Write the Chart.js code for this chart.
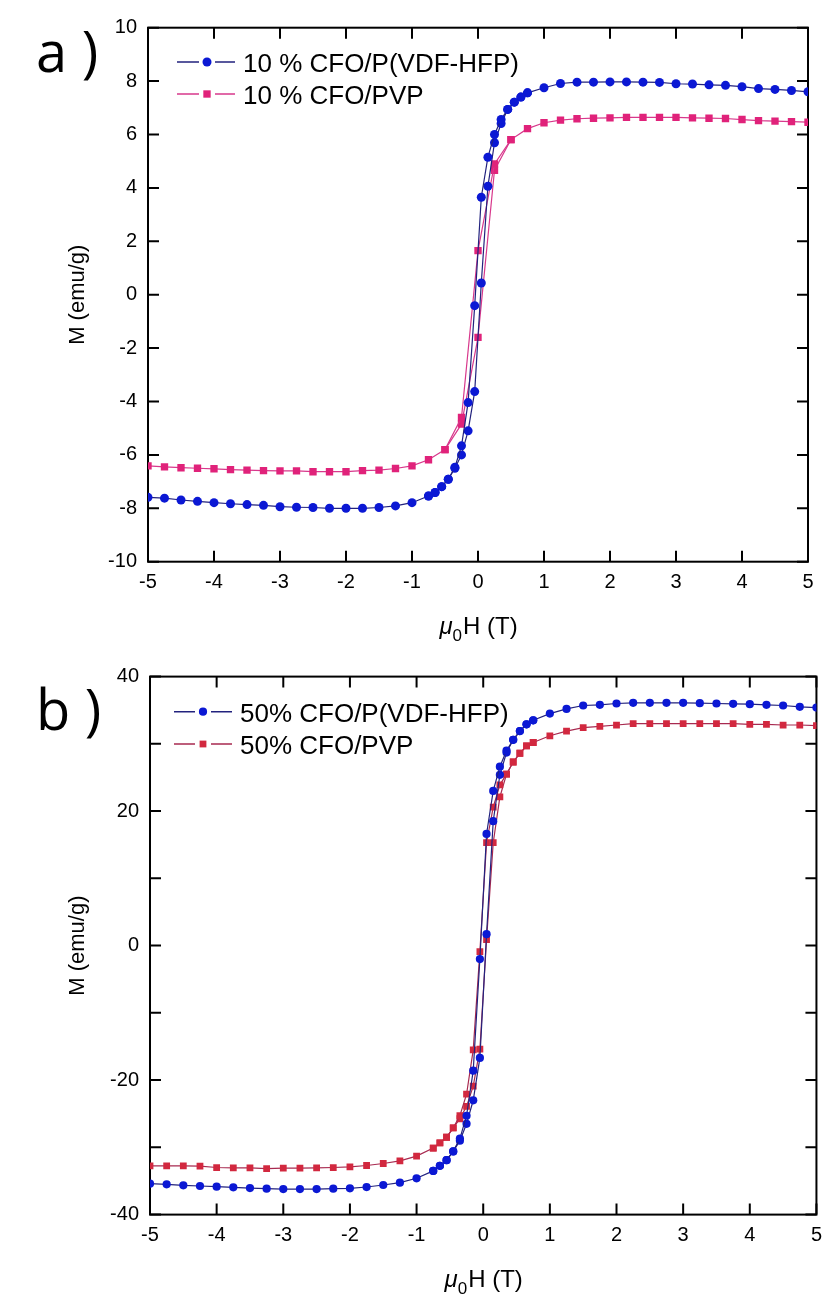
<!DOCTYPE html>
<html>
<head>
<meta charset="utf-8">
<script src="https://cdn.jsdelivr.net/npm/chart.js@4.4.0/dist/chart.umd.min.js"></script>
<style>
    body { margin: 0; background: #fff; width: 831px; height: 1301px; overflow: hidden; position: relative; }
    canvas { position: absolute; left: 0; }
</style>
</head>
<body>
<canvas id="chartA" style="top:0" width="831" height="650"></canvas>
<canvas id="chartB" style="top:650px" width="831" height="651"></canvas>
<script>
// field sweep from +5 T down to -5 T (descending branch)
var fieldSweep = [5, 4.75, 4.5, 4.25, 4, 3.75, 3.5, 3.25, 3, 2.75, 2.5, 2.25, 2, 1.75, 1.5, 1.25, 1,
    0.75, 0.65, 0.55, 0.45, 0.35, 0.25, 0.15, 0.05, -0.05, -0.15, -0.25, -0.35, -0.45, -0.55, -0.65, -0.75,
    -1, -1.25, -1.5, -1.75, -2, -2.25, -2.5, -2.75, -3, -3.25, -3.5, -3.75, -4, -4.25, -4.5, -4.75, -5];
// ascending branch near zero, where it splits from the descending one
var fieldInner = [-0.75, -0.65, -0.55, -0.45, -0.35, -0.25, -0.15, -0.05, 0.05, 0.15, 0.25, 0.35, 0.45, 0.55, 0.65, 0.75];

var fieldSweepPvp10 = [5, 4.75, 4.5, 4.25, 4, 3.75, 3.5, 3.25, 3, 2.75, 2.5, 2.25, 2, 1.75, 1.5, 1.25, 1,
    0.75, 0.5, 0.25, 0, -0.25, -0.5, -0.75,
    -1, -1.25, -1.5, -1.75, -2, -2.25, -2.5, -2.75, -3, -3.25, -3.5, -3.75, -4, -4.25, -4.5, -4.75, -5];
var fieldInnerPvp10 = [-0.5, -0.25, 0, 0.25, 0.5];

// a) 10 % CFO
var hfp10Down = [7.60, 7.65, 7.69, 7.72, 7.79, 7.84, 7.86, 7.89, 7.90, 7.95, 7.96, 7.97, 7.97, 7.96, 7.96, 7.91, 7.75,
    7.56, 7.40, 7.21, 6.94, 6.56, 6.00, 5.15, 3.65, -0.41, -4.04, -5.66, -6.46, -6.91, -7.19, -7.41, -7.54,
    -7.79, -7.91, -7.97, -8.00, -8.00, -8.00, -7.97, -7.96, -7.94, -7.89, -7.86, -7.83, -7.79, -7.74, -7.69, -7.62, -7.59];
var hfp10Up = [-7.54, -7.41, -7.19, -6.91, -6.50, -6.00, -5.10, -3.63, 0.44, 4.06, 5.69, 6.41, 6.94, 7.21, 7.40, 7.56];

var pvp10Down = [6.46, 6.48, 6.50, 6.52, 6.56, 6.60, 6.61, 6.62, 6.64, 6.64, 6.64, 6.64, 6.62, 6.61, 6.59, 6.54, 6.44,
    6.22, 5.81, 4.90, 1.65, -4.60, -5.80, -6.18,
    -6.41, -6.51, -6.57, -6.59, -6.63, -6.63, -6.63, -6.60, -6.60, -6.59, -6.57, -6.55, -6.52, -6.50, -6.48, -6.45, -6.41];
var pvp10Up = [-5.80, -4.85, -1.60, 4.66, 5.81];

// b) 50% CFO
var hfp50Down = [35.4, 35.5, 35.7, 35.8, 35.9, 35.95, 36.0, 36.05, 36.1, 36.1, 36.1, 36.1, 36.0, 35.8, 35.7, 35.2, 34.5,
    33.5, 32.9, 31.9, 30.6, 29.0, 26.6, 23.0, 16.6, -2.0, -18.6, -25.3, -28.7, -30.6, -31.9, -32.75, -33.5,
    -34.6, -35.25, -35.6, -35.9, -36.1, -36.15, -36.2, -36.2, -36.2, -36.15, -36.05, -35.95, -35.85, -35.75, -35.65, -35.5, -35.4];
var hfp50Up = [-33.5, -32.75, -31.9, -30.6, -29.0, -26.5, -23.0, -16.7, 1.7, 18.5, 25.4, 28.7, 30.6, 31.9, 32.9, 33.5];

var pvp50Down = [32.7, 32.8, 32.8, 32.9, 32.9, 33.0, 33.0, 33.0, 33.0, 33.0, 33.0, 33.0, 32.8, 32.6, 32.4, 31.9, 31.2,
    30.2, 29.7, 28.6, 27.3, 25.5, 23.9, 20.6, 15.3, -0.9, -15.5, -22.1, -25.3, -27.1, -28.5, -29.35, -30.1,
    -31.3, -32.0, -32.4, -32.7, -32.9, -33.0, -33.05, -33.1, -33.1, -33.15, -33.05, -33.05, -33.0, -32.8, -32.75, -32.75, -32.75];
var pvp50Up = [-30.1, -29.35, -28.5, -27.1, -25.75, -23.9, -20.9, -15.4, 0.9, 15.3, 22.1, 25.5, 27.3, 28.6, 29.7, 30.2];

var fieldTicks = [-5, -4, -3, -2, -1, 0, 1, 2, 3, 4, 5];
var momentTicksA = [-10, -8, -6, -4, -2, 0, 2, 4, 6, 8, 10];
var momentTicksB = [-40, -30, -20, -10, 0, 10, 20, 30, 40];
var momentLabelsB = [-40, -20, 0, 20, 40];

var FONT = '"Liberation Sans", Arial, sans-serif';

function pts(xs, ys) {
    return xs.map(function (x, i) { return { x: x, y: ys[i] }; });
}

function series(xs, ys, line, fill, style, r) {
    return {
        data: pts(xs, ys),
        showLine: true,
        borderColor: line,
        borderWidth: 1.2,
        pointStyle: style,
        pointRadius: r,
        pointBackgroundColor: fill,
        pointBorderColor: fill,
        pointBorderWidth: 0,
        tension: 0
    };
}

// frame, inward ticks, legend, titles
var framePlugin = {
    id: 'frame',
    beforeDatasetsDraw: function (chart) {
        var ctx = chart.ctx, a = chart.chartArea, xs = chart.scales.x, ys = chart.scales.y;
        ctx.save();
        ctx.strokeStyle = '#000';
        ctx.lineWidth = 2;
        ctx.strokeRect(a.left, a.top, a.right - a.left, a.bottom - a.top);
        ctx.beginPath();
        xs.ticks.forEach(function (t) {
            var p = xs.getPixelForValue(t.value);
            ctx.moveTo(p, a.bottom); ctx.lineTo(p, a.bottom - 11);
            ctx.moveTo(p, a.top); ctx.lineTo(p, a.top + 11);
        });
        ys.ticks.forEach(function (t) {
            var p = ys.getPixelForValue(t.value);
            ctx.moveTo(a.left, p); ctx.lineTo(a.left + 11, p);
            ctx.moveTo(a.right, p); ctx.lineTo(a.right - 11, p);
        });
        ctx.stroke();
        ctx.restore();
    },
    afterDraw: function (chart, args, opts) {
        var ctx = chart.ctx, a = chart.chartArea;
        ctx.save();
        ctx.fillStyle = '#000';

        // panel tag
        ctx.font = '56px "Open Sans", sans-serif';
        ctx.textBaseline = 'alphabetic';
        ctx.textAlign = 'left';
        ctx.fillText(opts.tag, 36, opts.tagY);

        // legend
        opts.legend.forEach(function (it) {
            var ds = chart.data.datasets[it.ds];
            ctx.strokeStyle = ds.borderColor;
            ctx.lineWidth = 1.5;
            ctx.beginPath();
            ctx.moveTo(it.x0, it.y); ctx.lineTo(it.m - 8, it.y);
            ctx.moveTo(it.m + 8, it.y); ctx.lineTo(it.x0 + 58, it.y);
            ctx.stroke();
            ctx.fillStyle = ds.pointBackgroundColor;
            ctx.beginPath();
            if (ds.pointStyle === 'rect') {
                var s = ds.pointRadius * Math.SQRT1_2;
                ctx.rect(it.m - s, it.y - s, 2 * s, 2 * s);
            } else {
                ctx.arc(it.m, it.y, ds.pointRadius, 0, Math.PI * 2);
            }
            ctx.fill();
            ctx.fillStyle = '#000';
            ctx.font = '26px ' + FONT;
            ctx.fillText(it.text, it.x0 + 66, it.base);
        });

        // x title: mu_0 H (T)
        var big = '24px ' + FONT, small = '17px ' + FONT, ital = 'italic 24px ' + FONT;
        ctx.font = ital; var w1 = ctx.measureText('\u03bc').width;
        ctx.font = small; var w2 = ctx.measureText('0').width;
        ctx.font = big; var w3 = ctx.measureText('H (T)').width;
        var x = (a.left + a.right) / 2 - (w1 + w2 + w3) / 2;
        var by = a.bottom + 72;
        ctx.font = ital; ctx.fillText('\u03bc', x, by);
        ctx.font = small; ctx.fillText('0', x + w1, by + 7);
        ctx.font = big; ctx.fillText('H (T)', x + w1 + w2 + 1, by);

        // y title
        ctx.translate(84, (a.top + a.bottom) / 2);
        ctx.rotate(-Math.PI / 2);
        ctx.textAlign = 'center';
        ctx.font = '22px ' + FONT;
        ctx.fillText('M (emu/g)', 0, 0);
        ctx.restore();
    }
};

function makeChart(id, datasets, yMin, yMax, yTicks, yLabels, pad, yWidth, xHeight, frameOpts) {
    return new Chart(document.getElementById(id), {
        type: 'scatter',
        data: { datasets: datasets },
        plugins: [framePlugin],
        options: {
            responsive: false,
            animation: false,
            events: [],
            layout: { padding: pad },
            plugins: { legend: { display: false }, tooltip: { enabled: false }, frame: frameOpts },
            scales: {
                x: {
                    type: 'linear', min: -5, max: 5,
                    afterBuildTicks: function (s) { s.ticks = fieldTicks.map(function (v) { return { value: v }; }); },
                    afterFit: function (s) { s.height = xHeight; },
                    grid: { display: false, drawTicks: false },
                    border: { display: false },
                    ticks: { color: '#000', padding: 9, maxRotation: 0, autoSkip: false, font: { family: FONT, size: 20 } }
                },
                y: {
                    type: 'linear', min: yMin, max: yMax,
                    afterBuildTicks: function (s) { s.ticks = yTicks.map(function (v) { return { value: v }; }); },
                    afterFit: function (s) { s.width = yWidth; },
                    grid: { display: false, drawTicks: false },
                    border: { display: false },
                    ticks: {
                        color: '#000', padding: 11, autoSkip: false, font: { family: FONT, size: 20 },
                        callback: function (v) { return yLabels.indexOf(v) >= 0 ? String(v) : ''; }
                    }
                }
            }
        }
    });
}

var BLUE_LINE = '#22227e', BLUE = '#0b18d4';
var PINK_LINE = '#d8388c', PINK = '#e0227a';
var RED_LINE = '#a82a50', RED = '#d2283f';

makeChart('chartA', [
    series(fieldSweep, hfp10Down, BLUE_LINE, BLUE, 'circle', 4.5),
    series(fieldInner, hfp10Up, BLUE_LINE, BLUE, 'circle', 4.5),
    series(fieldSweepPvp10, pvp10Down, PINK_LINE, PINK, 'rect', 5.2),
    series(fieldInnerPvp10, pvp10Up, PINK_LINE, PINK, 'rect', 5.2)
], -10, 10, momentTicksA, momentTicksA, { left: 0, top: 27.7, right: 23, bottom: 0 }, 148, 88.3, {
    tag: 'a )', tagY: 72,
    legend: [
        { ds: 0, text: '10 % CFO/P(VDF-HFP)', x0: 177, m: 207, y: 62, base: 72 },
        { ds: 2, text: '10 % CFO/PVP', x0: 177, m: 207, y: 94, base: 104 }
    ]
});

makeChart('chartB', [
    series(fieldSweep, hfp50Down, BLUE_LINE, BLUE, 'circle', 4.1),
    series(fieldInner, hfp50Up, BLUE_LINE, BLUE, 'circle', 4.1),
    series(fieldSweep, pvp50Down, RED_LINE, RED, 'rect', 4.8),
    series(fieldInner, pvp50Up, RED_LINE, RED, 'rect', 4.8)
], -40, 40, momentTicksB, momentLabelsB, { left: 0, top: 26.6, right: 14, bottom: 0 }, 150, 86.4, {
    tag: 'b )', tagY: 80,
    legend: [
        { ds: 0, text: '50% CFO/P(VDF-HFP)', x0: 174, m: 203, y: 61.7, base: 72 },
        { ds: 2, text: '50% CFO/PVP', x0: 174, m: 203, y: 94, base: 104 }
    ]
});
</script>
</body>
</html>
